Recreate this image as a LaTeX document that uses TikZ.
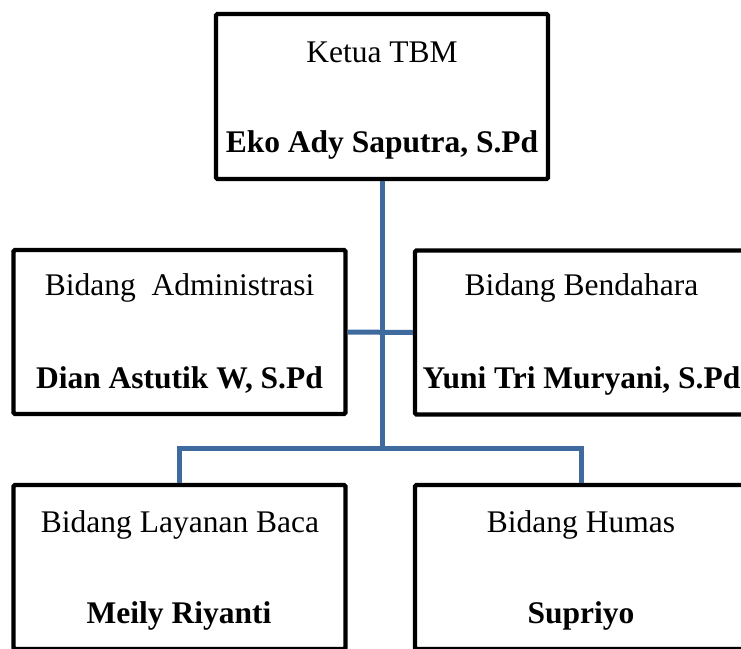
\documentclass[tikz,border=0pt]{standalone}
\usepackage{fontspec}
\setmainfont{Liberation Serif}
\usepackage{tikz}
\usetikzlibrary{positioning}
\definecolor{garisbiru}{RGB}{62,106,158}

\tikzset{
  kotak/.style={draw=black, line width=4.3pt, rounded corners=1.5pt,
    minimum width=332pt, minimum height=164pt, inner sep=0pt},
  jabatan/.style={anchor=base, inner sep=0pt, font=\fontsize{31.5}{36}\selectfont},
  nama/.style={jabatan, font=\fontsize{31.5}{36}\selectfont\bfseries},
  hubung/.style={draw=garisbiru, line width=5pt}
}

\begin{document}
\begin{tikzpicture}[x=1pt, y=-1pt]
\clip (0,0) rectangle (741,648);

% kotak
\node[kotak, minimum height=165pt] (ketua) at (382,96.5) {};
\node[kotak] (admin) at (179.5,332) {};
\node[kotak] (bendahara) at (581,332.5) {};
\node[kotak] (layanan) at (179.5,567) {};
\node[kotak] (humas) at (581,567) {};

% garis
\coordinate (cabang) at (382,451);
\draw[hubung] (ketua.south) -- (cabang);
\draw[hubung] (admin.east) -- (bendahara.west);
\draw[hubung] (layanan.north) -- ++(0,-34) -| (humas.north);

% teks
\node[jabatan] (ketuaJ) at (382,62) {Ketua TBM};
\node[nama] (ketuaN) at (382,152) {Eko Ady Saputra, S.Pd};

\node[jabatan] (adminJ) at (179.5,295) {Bidang~ Administrasi};
\node[nama] (adminN) at (179.5,388) {Dian Astutik W, S.Pd};

\node[jabatan] (bendaharaJ) at (581.5,295) {Bidang Bendahara};
\node[nama] (bendaharaN) at (581.5,388) {Yuni Tri Muryani, S.Pd};

\node[jabatan] (layananJ) at (180,532) {Bidang Layanan Baca};
\node[nama] (layananN) at (179,623) {Meily Riyanti};

\node[jabatan] (humasJ) at (581,532) {Bidang Humas};
\node[nama] (humasN) at (581,623) {Supriyo};
\end{tikzpicture}
\end{document}
